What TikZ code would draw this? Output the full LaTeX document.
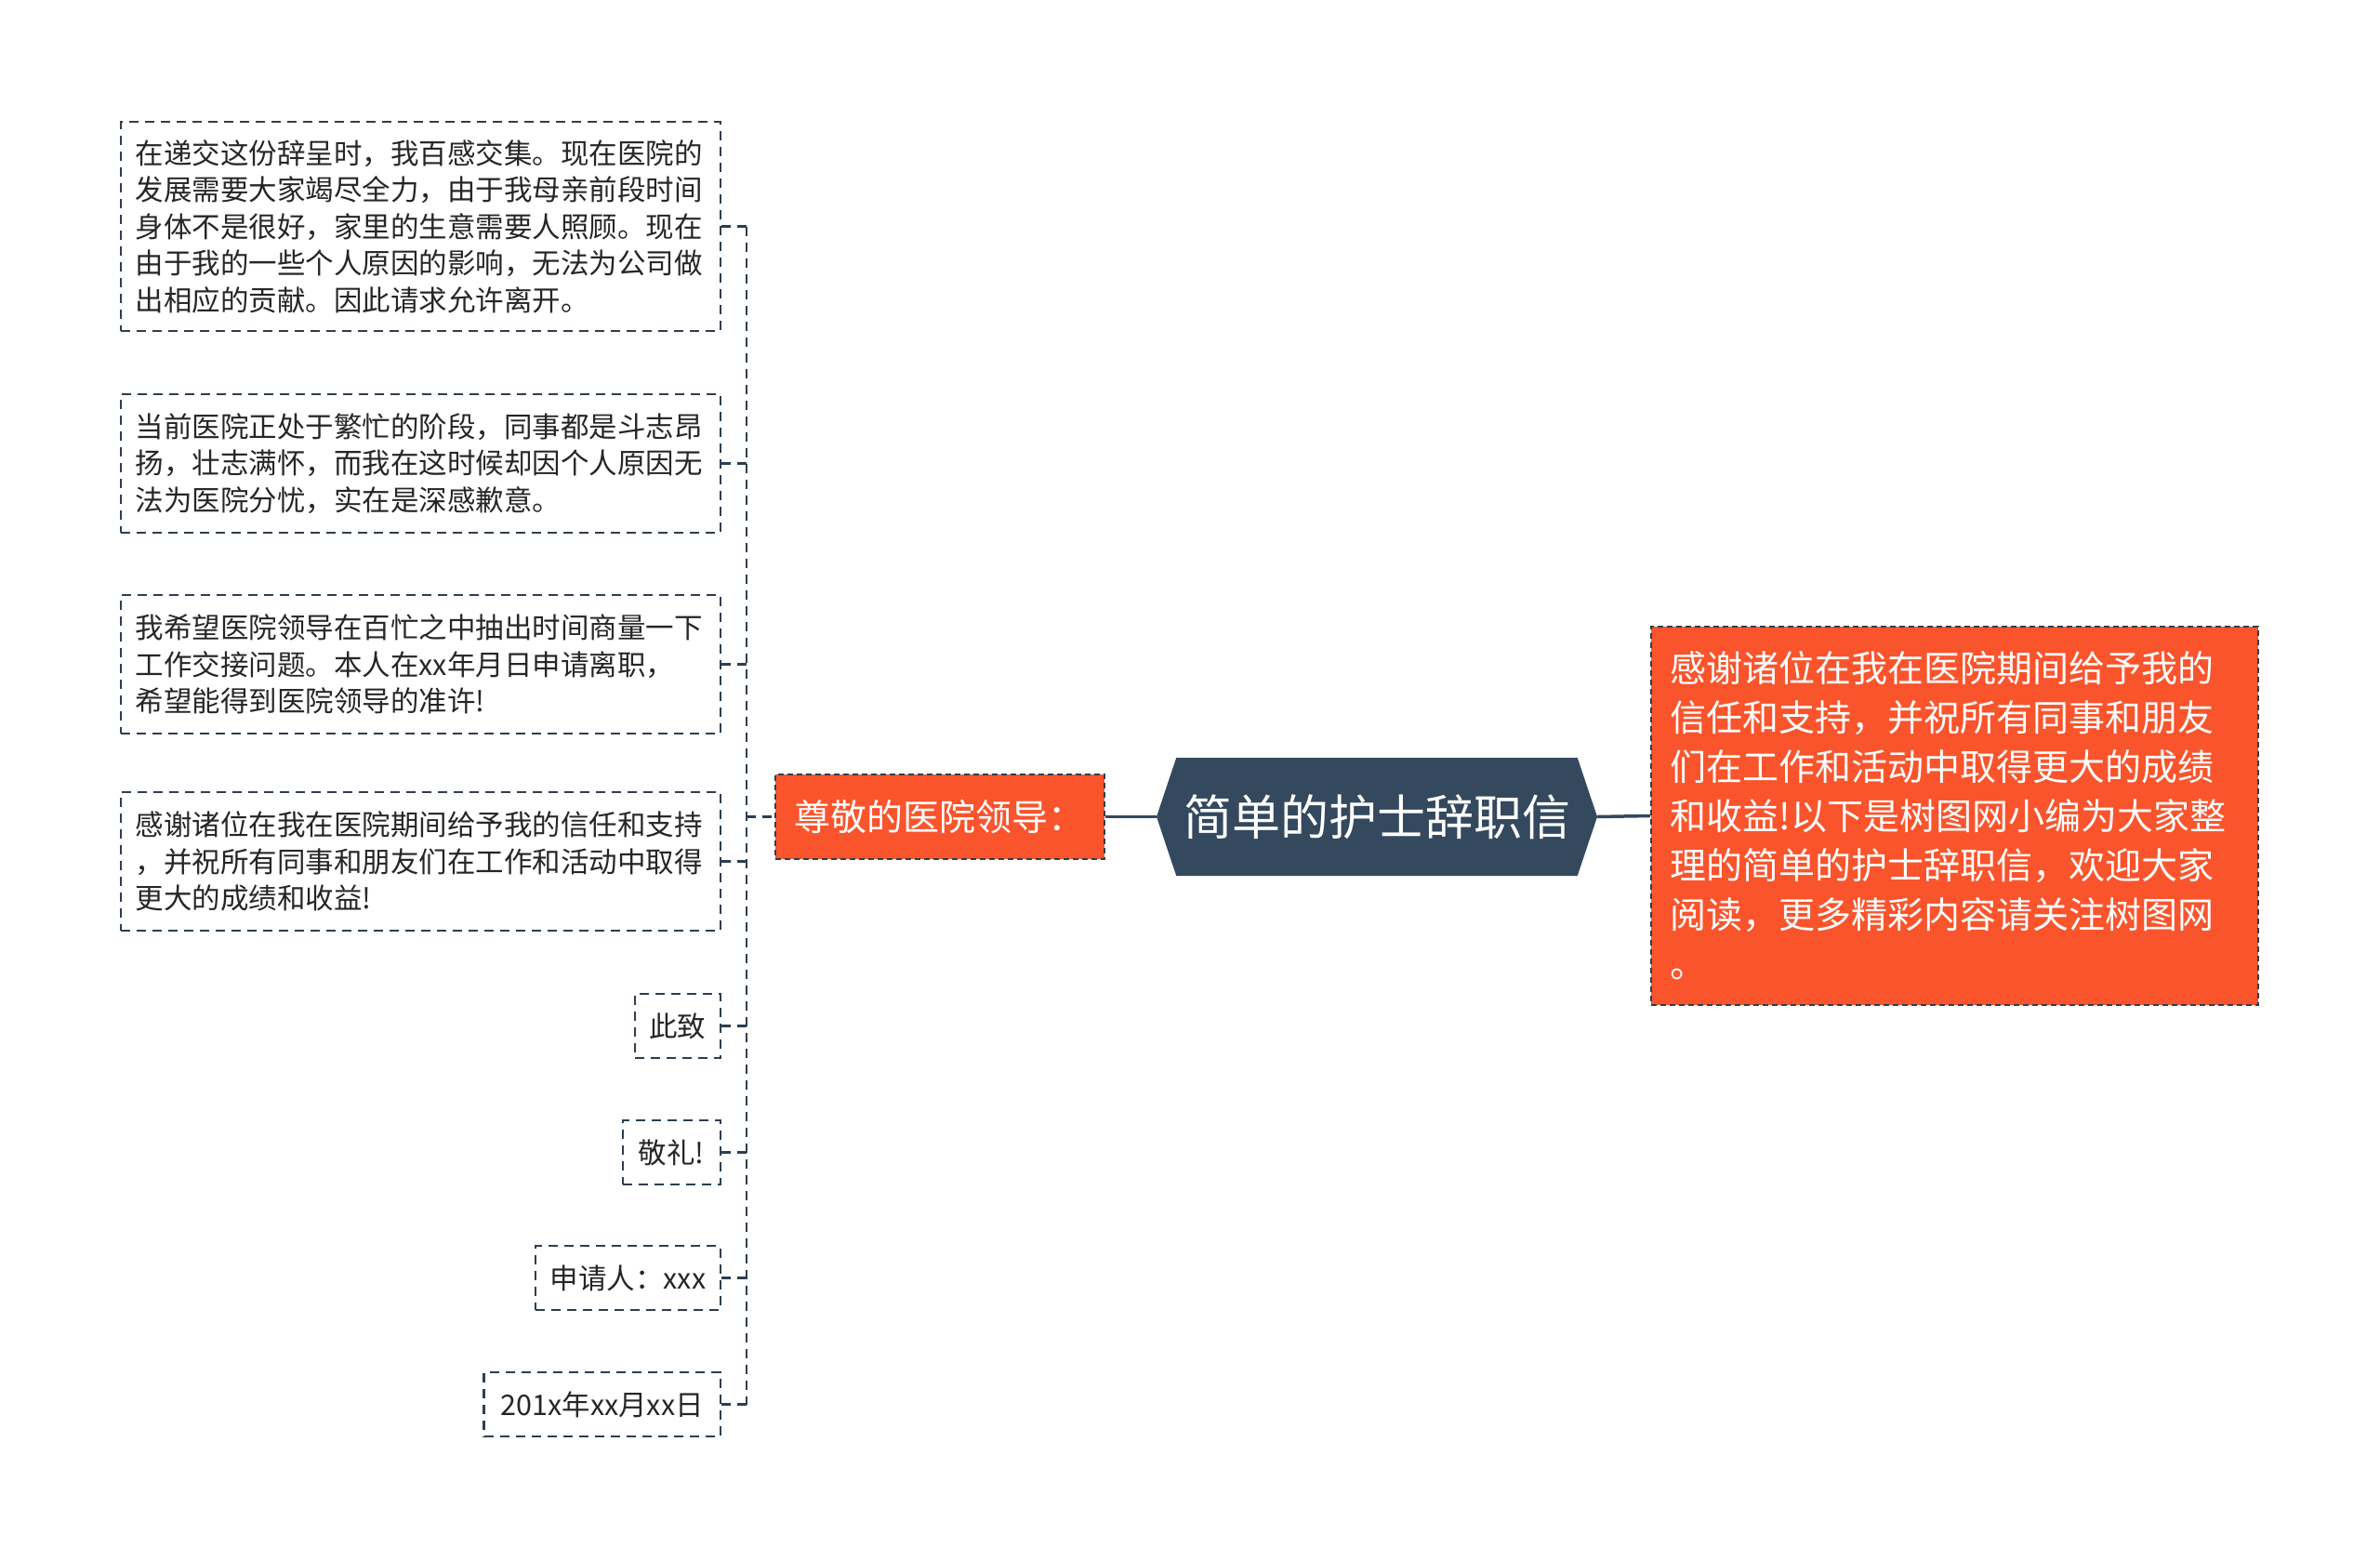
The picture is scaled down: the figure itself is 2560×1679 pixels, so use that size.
\documentclass[tikz,border=0pt]{standalone}
\usepackage{fontspec}
\setmainfont{Noto Sans CJK SC}
\usetikzlibrary{shapes.symbols}
\definecolor{slate}{RGB}{52,73,94}
\definecolor{hotred}{RGB}{250,84,44}
\definecolor{edge}{RGB}{45,62,80}
\tikzset{
  note/.style={draw=edge, line width=2.4bp, dash pattern=on 10bp off 7bp, anchor=east,
    inner xsep=16bp, align=left, text=black!85, font=\fontsize{30.5bp}{39.5bp}\selectfont},
  conn/.style={draw=edge, line width=2.4bp, dash pattern=on 10bp off 7bp},
  hot/.style={fill=hotred, draw=edge, line width=1.6bp, dash pattern=on 6bp off 4bp,
    anchor=west, text=white, align=left},
  link/.style={draw=slate, line width=3.5bp},
}
\begin{document}
\begin{tikzpicture}[x=1bp,y=-1bp]
\useasboundingbox (0,0) rectangle (2560,1679);

\node[note, text width=613bp, minimum height=225bp] (p1) at (776,243.5)
  {在递交这份辞呈时，我百感交集。现在医院的\\发展需要大家竭尽全力，由于我母亲前段时间\\身体不是很好，家里的生意需要人照顾。现在\\由于我的一些个人原因的影响，无法为公司做\\出相应的贡献。因此请求允许离开。};
\node[note, text width=613bp, minimum height=149bp] (p2) at (776,498.5)
  {当前医院正处于繁忙的阶段，同事都是斗志昂\\扬，壮志满怀，而我在这时候却因个人原因无\\法为医院分忧，实在是深感歉意。};
\node[note, text width=613bp, minimum height=149bp] (p3) at (776,714.5)
  {我希望医院领导在百忙之中抽出时间商量一下\\工作交接问题。本人在xx年月日申请离职，\\希望能得到医院领导的准许!};
\node[note, text width=613bp, minimum height=149bp] (p4) at (776,926.5)
  {感谢诸位在我在医院期间给予我的信任和支持\\，并祝所有同事和朋友们在工作和活动中取得\\更大的成绩和收益!};
\node[note, inner xsep=15.5bp, minimum height=69bp] (s1) at (776,1103.5) {此致};
\node[note, inner xsep=17bp, minimum height=69bp] (s2) at (776,1239.5) {敬礼!};
\node[note, inner xsep=15.5bp, minimum height=69bp] (s3) at (776,1374.5) {申请人：xxx};
\node[note, inner xsep=18bp, minimum height=69bp] (s4) at (776,1510.5) {201x年xx月xx日};

\node[hot, minimum width=354bp, minimum height=91bp, inner xsep=20bp,
  font=\fontsize{39bp}{47bp}\selectfont] (lead) at (833,878.5) {尊敬的医院领导：};
\node[signal, signal to=east and west, signal pointer angle=143, fill=slate,
  minimum width=474bp, minimum height=127bp, text=white,
  font=\fontsize{52bp}{60bp}\selectfont] (title) at (1481,878.5) {简单的护士辞职信};
\node[hot, text width=611bp, inner xsep=21bp, minimum height=407bp,
  font=\fontsize{39bp}{53bp}\selectfont] (intro) at (1775,877.5)
  {感谢诸位在我在医院期间给予我的\\信任和支持，并祝所有同事和朋友\\们在工作和活动中取得更大的成绩\\和收益!以下是树图网小编为大家整\\理的简单的护士辞职信，欢迎大家\\阅读，更多精彩内容请关注树图网\\。};

\coordinate (spine) at (803,0);
\foreach \n in {p1,p2,p3,p4,s1,s2,s3,s4}
  \draw[conn] (\n.east) -- (\n.east -| spine);
\draw[conn] (p1.east -| spine) -- (s4.east -| spine);
\draw[conn] (lead.west -| spine) -- (lead.west);
\draw[link] (lead.east) -- (title.west);
\draw[link] (title.east) -- (intro.west);
\end{tikzpicture}
\end{document}
